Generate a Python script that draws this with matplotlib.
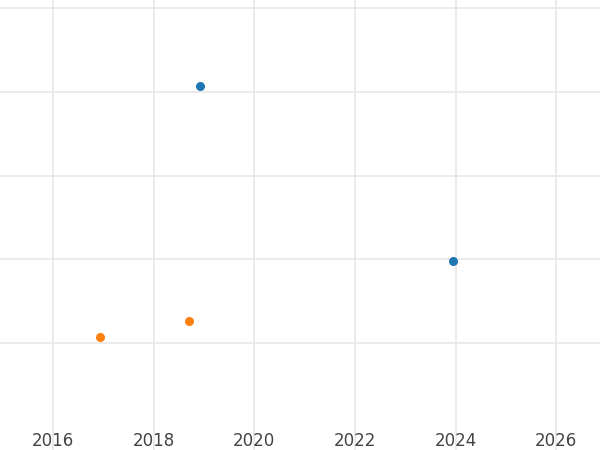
import matplotlib
matplotlib.use("Agg")
import matplotlib.pyplot as plt

blue_x = [2018.92, 2023.95]
blue_y = [4.07, 1.98]
orange_x = [2016.93, 2018.70]
orange_y = [1.07, 1.27]
xticks = [2016, 2018, 2020, 2022, 2024, 2026]

fig = plt.figure(figsize=(6, 4.5), dpi=100)
ax = fig.add_axes([0, 0, 1, 1])
ax.scatter(blue_x, blue_y, color="#1f77b4", s=30, zorder=3)
ax.scatter(orange_x, orange_y, color="#ff7f0e", s=30, zorder=3)
ax.set_xlim(2014.95, 2026.87)
ax.set_ylim(-0.274, 5.095)
ax.set_xticks(xticks)
ax.set_yticks([1, 2, 3, 4, 5])
ax.set_yticklabels([])
ax.grid(True, color="#e8e8e8", linewidth=1.2)
ax.set_axisbelow(True)
for s in ax.spines.values():
    s.set_visible(False)
ax.tick_params(length=0, labelsize=12, labelcolor="#444444")
ax.tick_params(axis="x", pad=-13)
fig.savefig("out.png", dpi=100)
